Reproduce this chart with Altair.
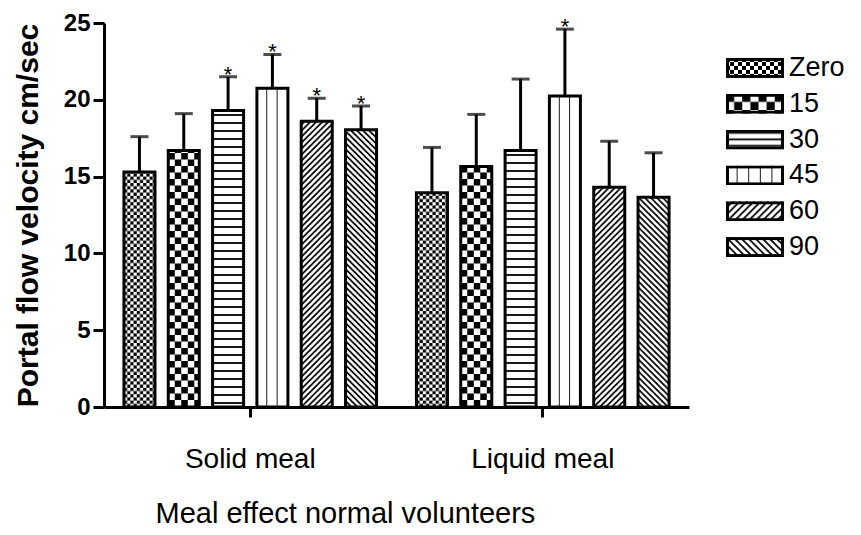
import base64
import altair as alt
import pandas as pd

meals = ["Solid meal", "Liquid meal"]
times = ["Zero", "15", "30", "45", "60", "90"]
solid_mean = [15.3, 16.7, 19.3, 20.75, 18.6, 18.05]
solid_sem = [2.3, 2.4, 2.2, 2.2, 1.5, 1.55]
solid_star = [False, False, True, True, True, True]
liquid_mean = [13.95, 15.65, 16.7, 20.25, 14.3, 13.65]
liquid_sem = [2.95, 3.4, 4.65, 4.35, 3.0, 2.9]
liquid_star = [False, False, False, True, False, False]

FONT = "Liberation Sans"


def pattern_url(kind, w, h, border=False, scale=1.0):
    if kind in ("Zero", "15"):
        c = (3.2 if kind == "Zero" else 6.5) * scale
        tw, th = 2 * c, 2 * c
        body = (f'<rect width="{c}" height="{c}" fill="black"/>'
                f'<rect x="{c}" y="{c}" width="{c}" height="{c}" fill="black"/>')
    elif kind == "30":
        s = 8 if scale == 1.0 else 6.5
        tw, th = 4, s
        body = f'<rect y="{s / 2 - 0.9}" width="4" height="1.8" fill="black"/>'
    elif kind == "45":
        col = 10.33 if scale == 1.0 else 11.6
        tw, th = col, 4
        body = f'<rect x="{col - 0.9}" width="1.8" height="4" fill="black"/>'
    elif kind == "60":
        s = 6 if scale == 1.0 else 7
        tw, th = s, s
        body = (f'<path d="M0,{s}L{s},0M-1,1L1,-1M{s - 1},{s + 1}L{s + 1},{s - 1}" '
                'stroke="black" stroke-width="1.7"/>')
    else:
        s = 6 if scale == 1.0 else 7
        tw, th = s, s
        body = (f'<path d="M0,0L{s},{s}M-1,{s - 1}L1,{s + 1}M{s - 1},-1L{s + 1},1" '
                'stroke="black" stroke-width="1.7"/>')
    frame = ""
    if border:
        frame = (f'<rect x="1.5" y="1.5" width="{w - 3}" height="{h - 3}" '
                 'fill="none" stroke="black" stroke-width="3"/>')
    svg = (f'<svg xmlns="http://www.w3.org/2000/svg" width="{w}" height="{h}" '
           f'viewBox="0 0 {w} {h}"><defs><pattern id="p" patternUnits="userSpaceOnUse" '
           f'width="{tw}" height="{th}"><rect width="{tw}" height="{th}" fill="white"/>'
           f'{body}</pattern></defs><rect width="{w}" height="{h}" fill="url(#p)"/>'
           f'{frame}</svg>')
    return "data:image/svg+xml;base64," + base64.b64encode(svg.encode()).decode()


bar_urls = {t: pattern_url(t, 31, 384) for t in times}
leg_urls = {t: pattern_url(t, 58, 20, border=True, scale=1.25) for t in times}

rows = []
for meal, means, sems, stars in [("Solid meal", solid_mean, solid_sem, solid_star),
                                 ("Liquid meal", liquid_mean, liquid_sem, liquid_star)]:
    for t, m, s, st in zip(times, means, sems, stars):
        rows.append({"meal": meal, "time": t, "mean": m, "sem": s, "star": st,
                     "url": bar_urls[t], "top": 25, "zero": 0})
df = pd.DataFrame(rows)

yscale = alt.Scale(domain=[0, 25], nice=False)

base = alt.Chart(df).encode(
    x=alt.X("meal:N", sort=meals,
            scale=alt.Scale(paddingInner=0, paddingOuter=0),
            title="Meal effect normal volunteers",
            axis=alt.Axis(labelAngle=0, labelFont=FONT, labelFontSize=28,
                          labelColor="black", labelPadding=28, tickSize=10,
                          tickWidth=3, tickColor="black", domainWidth=3,
                          domainColor="black", titleFont=FONT, titleFontSize=29,
                          titleFontWeight="normal", titleColor="black",
                          titlePadding=26, titleAlign="left", titleX=51)),
    xOffset=alt.XOffset("time:N", sort=times,
                        scale=alt.Scale(paddingInner=0.3, paddingOuter=0.45)),
).transform_calculate(hi="datum.mean + datum.sem")

columns = base.mark_image(aspect=False).encode(
    y=alt.Y("top:Q", scale=yscale, title="Portal flow velocity cm/sec",
            axis=alt.Axis(values=[0, 5, 10, 15, 20, 25], grid=False,
                          labelFont=FONT, labelFontSize=24, labelFontWeight="bold",
                          labelColor="black", labelPadding=3, tickSize=11,
                          tickWidth=3, tickColor="black", domainWidth=3,
                          domainColor="black", titleFont=FONT, titleFontSize=30,
                          titleFontWeight="bold", titleColor="black",
                          titlePadding=20)),
    y2="zero:Q",
    url="url:N",
)

cover = base.mark_bar(color="white", stroke="white", strokeWidth=2).encode(
    y="mean:Q", y2="top:Q")
outline = base.mark_bar(filled=False, stroke="black", strokeWidth=3).encode(
    y="mean:Q", y2="zero:Q")
errs = base.mark_rule(color="black", strokeWidth=3).encode(y="mean:Q", y2="hi:Q")
caps = base.mark_tick(orient="horizontal", size=18, thickness=3,
                      color="black").encode(y="hi:Q")
stars = base.transform_filter("datum.star").mark_text(
    text="*", font=FONT, fontSize=22, color="black", baseline="alphabetic",
    dy=5).encode(y="hi:Q")

main = alt.layer(columns, cover, outline, errs, caps, stars).properties(
    width=585, height=384)

leg_df = pd.DataFrame({"time": times, "url": [leg_urls[t] for t in times]})
leg_base = alt.Chart(leg_df).encode(
    y=alt.Y("time:N", sort=times, scale=alt.Scale(range=[27, 242], padding=0),
            axis=None))
leg_img = leg_base.mark_image(width=58, height=20, align="left",
                              baseline="middle", aspect=False).encode(
    x=alt.value(0), url="url:N")
leg_txt = leg_base.mark_text(align="left", baseline="middle", font=FONT,
                             fontSize=27, color="black").encode(
    x=alt.value(63), text="time:N")
legend = alt.layer(leg_img, leg_txt).properties(width=120, height=384)

chart = alt.hconcat(main, legend, spacing=37).properties(
    padding={"left": 5, "top": 3, "right": 0, "bottom": 0}
).configure_view(stroke=None)

chart.save("out.html", embed_options={"renderer": "svg", "actions": False})
